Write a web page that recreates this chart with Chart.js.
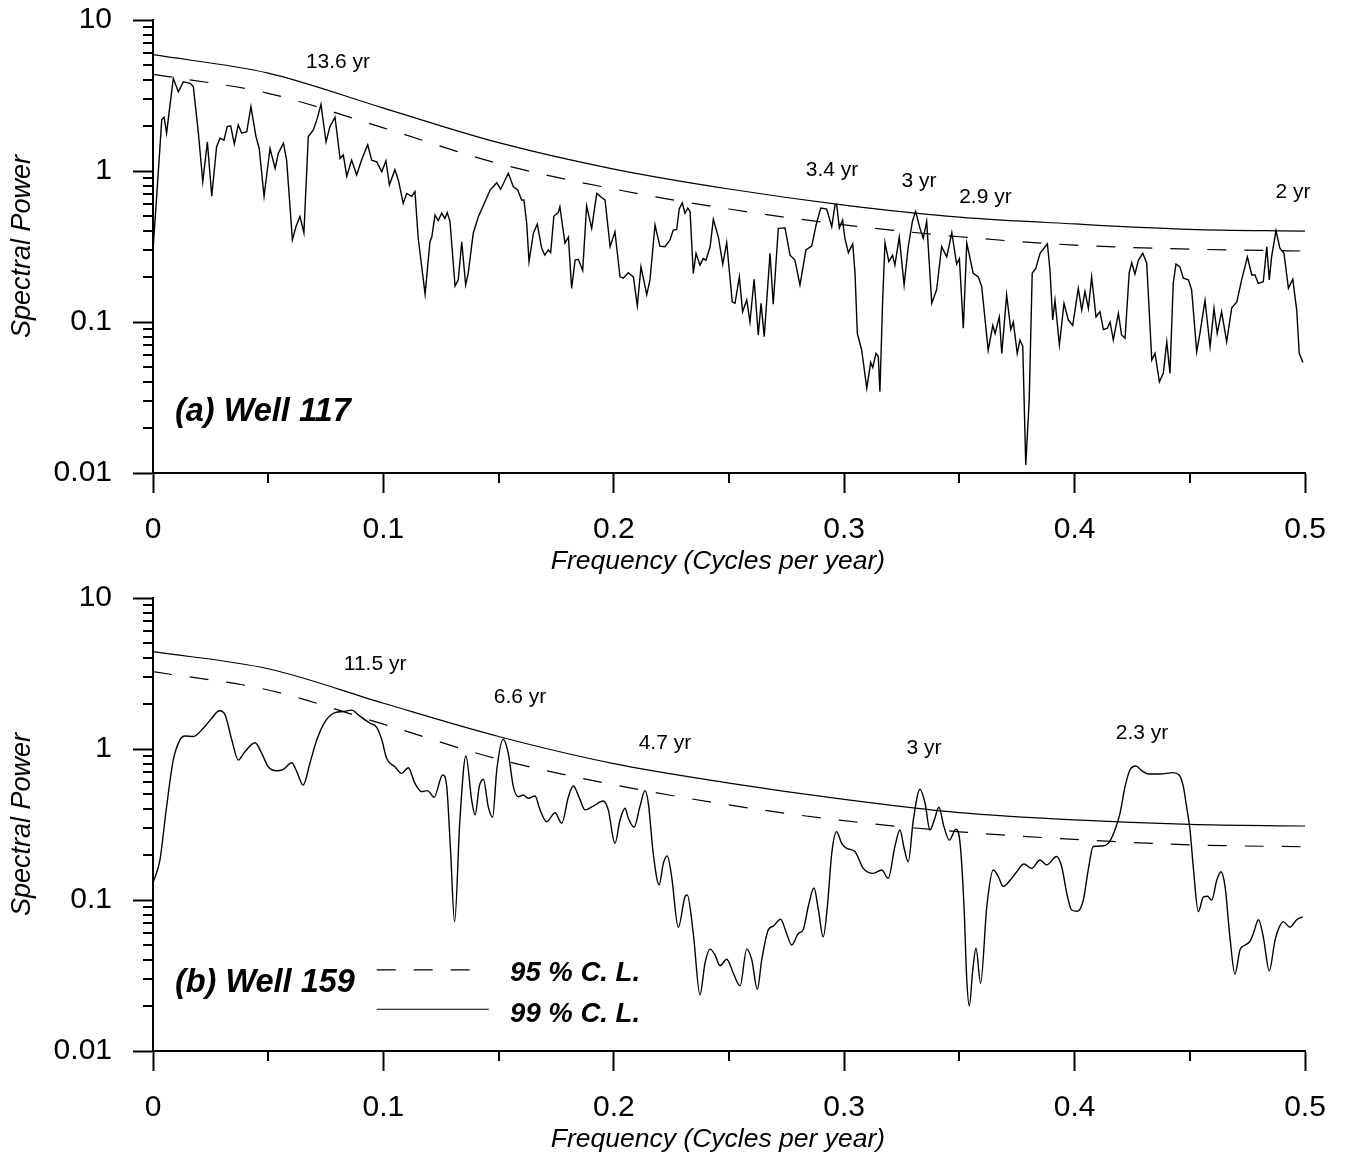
<!DOCTYPE html>
<html>
<head>
<meta charset="utf-8">
<title>Spectral power, wells 117 and 159</title>
<script src="https://cdn.jsdelivr.net/npm/chart.js@4.4.1/dist/chart.umd.min.js"></script>
<style>
  body { margin: 0; background: #fff; }
  #wrap { position: relative; width: 1346px; height: 1157px; }
  canvas { position: absolute; left: 0; }
</style>
</head>
<body>
<div id="wrap">
  <canvas id="chartA" width="1346" height="578" style="top:0px"></canvas>
  <canvas id="chartB" width="1346" height="579" style="top:578px"></canvas>
</div>
<script>
// ---- data: [frequency (cycles/yr), spectral power] ----
const well117 = [[0,0.30],[0.0016,0.68],[0.0038,2.18],[0.0048,2.27],[0.0059,1.78],[0.0088,4.11],[0.011,3.35],[0.0132,3.9],[0.0161,3.81],[0.0175,3.62],[0.0197,1.78],[0.0216,0.85],[0.0236,1.56],[0.0255,0.68],[0.0276,1.45],[0.0291,1.65],[0.0308,1.6],[0.0322,1.97],[0.0337,1.99],[0.0353,1.51],[0.037,2.02],[0.0385,1.78],[0.0407,1.82],[0.0425,2.67],[0.0447,1.69],[0.0461,1.41],[0.0482,0.68],[0.0508,1.41],[0.053,1.04],[0.0544,1.31],[0.0566,1.53],[0.058,1.18],[0.0605,0.35],[0.0621,0.43],[0.0638,0.50],[0.0655,0.39],[0.0674,1.69],[0.0696,1.87],[0.0713,2.23],[0.0729,2.76],[0.0751,1.56],[0.0768,1.97],[0.079,2.27],[0.0812,1.21],[0.0826,1.28],[0.0841,0.92],[0.0862,1.18],[0.0884,0.94],[0.0906,1.19],[0.0932,1.49],[0.0949,1.18],[0.0971,1.15],[0.0993,0.99],[0.1011,1.17],[0.1026,0.81],[0.105,1.02],[0.1065,0.87],[0.1086,0.61],[0.1101,0.71],[0.1123,0.68],[0.1137,0.73],[0.1151,0.36],[0.1181,0.153],[0.1202,0.34],[0.121,0.365],[0.1224,0.51],[0.1238,0.47],[0.1253,0.525],[0.1267,0.485],[0.1277,0.53],[0.1289,0.464],[0.1311,0.173],[0.1325,0.19],[0.134,0.34],[0.1357,0.176],[0.1368,0.21],[0.139,0.387],[0.1412,0.498],[0.1441,0.626],[0.1463,0.748],[0.1492,0.837],[0.1509,0.756],[0.1528,0.872],[0.1542,0.965],[0.1564,0.787],[0.1583,0.748],[0.16,0.643],[0.161,0.643],[0.1622,0.45],[0.1632,0.251],[0.1651,0.387],[0.1668,0.445],[0.1687,0.308],[0.1701,0.277],[0.1716,0.30],[0.1726,0.288],[0.174,0.503],[0.1759,0.53],[0.1766,0.58],[0.1788,0.333],[0.1803,0.365],[0.1817,0.167],[0.1832,0.257],[0.1846,0.26],[0.1865,0.219],[0.1882,0.587],[0.1904,0.417],[0.1926,0.711],[0.1947,0.667],[0.1962,0.643],[0.1984,0.315],[0.2005,0.396],[0.2027,0.199],[0.2041,0.195],[0.2063,0.212],[0.2085,0.199],[0.2102,0.128],[0.2118,0.232],[0.2143,0.152],[0.2157,0.19],[0.2179,0.439],[0.22,0.318],[0.2222,0.315],[0.2244,0.349],[0.2258,0.406],[0.2273,0.41],[0.2284,0.56],[0.2297,0.616],[0.2309,0.525],[0.2321,0.568],[0.2331,0.54],[0.2345,0.21],[0.2357,0.285],[0.2374,0.238],[0.2388,0.263],[0.24,0.257],[0.2418,0.315],[0.2432,0.478],[0.2454,0.365],[0.2473,0.242],[0.249,0.335],[0.2514,0.136],[0.2526,0.133],[0.2545,0.199],[0.2559,0.117],[0.2577,0.14],[0.2591,0.10],[0.2609,0.192],[0.2627,0.082],[0.2639,0.133],[0.2653,0.08],[0.2678,0.285],[0.2692,0.131],[0.2714,0.417],[0.2743,0.42],[0.2765,0.277],[0.2786,0.257],[0.2808,0.176],[0.2834,0.30],[0.2859,0.318],[0.2878,0.439],[0.2898,0.568],[0.2924,0.56],[0.2946,0.428],[0.296,0.595],[0.2967,0.604],[0.2979,0.42],[0.2993,0.474],[0.3003,0.358],[0.3018,0.288],[0.3037,0.329],[0.3047,0.21],[0.3057,0.084],[0.3076,0.065],[0.3098,0.0364],[0.3115,0.054],[0.3124,0.05],[0.3138,0.062],[0.3148,0.059],[0.3155,0.0346],[0.3167,0.14],[0.3177,0.335],[0.3194,0.251],[0.321,0.277],[0.322,0.238],[0.3239,0.364],[0.326,0.176],[0.3278,0.315],[0.3296,0.464],[0.331,0.54],[0.3329,0.417],[0.3343,0.358],[0.3358,0.464],[0.338,0.133],[0.3401,0.163],[0.3423,0.315],[0.3445,0.27],[0.3467,0.39],[0.3488,0.242],[0.35,0.263],[0.3517,0.091],[0.3532,0.333],[0.356,0.21],[0.3582,0.199],[0.3597,0.171],[0.3625,0.065],[0.3645,0.095],[0.3655,0.084],[0.3673,0.108],[0.3684,0.062],[0.3705,0.151],[0.3723,0.089],[0.3734,0.10],[0.3751,0.062],[0.3763,0.076],[0.3775,0.069],[0.3788,0.0113],[0.3803,0.0305],[0.3816,0.21],[0.3832,0.227],[0.385,0.285],[0.3867,0.308],[0.3882,0.329],[0.3893,0.221],[0.3905,0.103],[0.3915,0.139],[0.3934,0.0704],[0.3954,0.133],[0.3973,0.103],[0.3992,0.095],[0.4016,0.167],[0.4031,0.12],[0.4045,0.159],[0.406,0.123],[0.4074,0.199],[0.4093,0.108],[0.411,0.117],[0.4125,0.089],[0.4142,0.091],[0.4154,0.10],[0.4168,0.076],[0.419,0.114],[0.4204,0.082],[0.4219,0.078],[0.4237,0.212],[0.4248,0.247],[0.4262,0.208],[0.4277,0.257],[0.4296,0.285],[0.4313,0.245],[0.4335,0.056],[0.4349,0.062],[0.4368,0.0402],[0.4385,0.0457],[0.44,0.074],[0.4414,0.0457],[0.4428,0.18],[0.444,0.242],[0.4457,0.232],[0.4472,0.195],[0.4494,0.19],[0.4508,0.163],[0.453,0.0636],[0.4544,0.084],[0.4566,0.139],[0.4588,0.0686],[0.4605,0.123],[0.4619,0.084],[0.4638,0.117],[0.466,0.074],[0.4682,0.124],[0.4704,0.136],[0.4725,0.19],[0.475,0.27],[0.4769,0.205],[0.4783,0.205],[0.4797,0.18],[0.4819,0.185],[0.4834,0.315],[0.4845,0.19],[0.4855,0.27],[0.4874,0.402],[0.4891,0.308],[0.4909,0.285],[0.4928,0.167],[0.4947,0.192],[0.4964,0.12],[0.4975,0.062],[0.4991,0.054]];

const well159 = [[0,0.13],[0.003,0.184],[0.0059,0.415],[0.0088,0.846],[0.0117,1.15],[0.0139,1.22],[0.0175,1.21],[0.0218,1.37],[0.0255,1.6],[0.0288,1.79],[0.0313,1.68],[0.0342,1.15],[0.037,0.846],[0.0399,0.96],[0.0443,1.1],[0.0472,0.936],[0.05,0.763],[0.0537,0.718],[0.0566,0.734],[0.0602,0.81],[0.0624,0.708],[0.0652,0.577],[0.0681,0.804],[0.0711,1.15],[0.0747,1.52],[0.079,1.74],[0.0826,1.77],[0.0862,1.81],[0.0898,1.65],[0.0942,1.48],[0.0971,1.39],[0.0993,1.15],[0.1014,0.868],[0.105,0.763],[0.1079,0.69],[0.1108,0.752],[0.1137,0.592],[0.1166,0.522],[0.1191,0.53],[0.122,0.479],[0.1257,0.673],[0.1274,0.58],[0.1291,0.22],[0.1309,0.0716],[0.1332,0.339],[0.1358,0.899],[0.1383,0.46],[0.1398,0.366],[0.1416,0.563],[0.1434,0.63],[0.1455,0.415],[0.1474,0.353],[0.1492,0.726],[0.152,1.16],[0.1542,0.936],[0.1564,0.563],[0.1586,0.483],[0.1607,0.496],[0.1629,0.471],[0.1658,0.488],[0.168,0.395],[0.1709,0.33],[0.1745,0.378],[0.1774,0.322],[0.1803,0.483],[0.1824,0.569],[0.1853,0.464],[0.1875,0.395],[0.1911,0.419],[0.1954,0.452],[0.1976,0.395],[0.2005,0.237],[0.2027,0.339],[0.2049,0.405],[0.2063,0.348],[0.2088,0.303],[0.2114,0.419],[0.2135,0.53],[0.215,0.437],[0.2171,0.204],[0.2197,0.126],[0.2215,0.175],[0.2232,0.196],[0.2251,0.143],[0.228,0.066],[0.2309,0.105],[0.2319,0.108],[0.2345,0.06],[0.2374,0.0236],[0.2396,0.0383],[0.2418,0.0473],[0.2439,0.0433],[0.2461,0.0367],[0.249,0.0405],[0.2519,0.0327],[0.2548,0.027],[0.2577,0.0473],[0.2599,0.0401],[0.2623,0.0256],[0.2642,0.0401],[0.2671,0.0636],[0.2692,0.0671],[0.2724,0.0746],[0.275,0.06],[0.2772,0.0503],[0.2801,0.06],[0.2823,0.0641],[0.2844,0.0906],[0.2869,0.12],[0.2888,0.0859],[0.2909,0.057],[0.2927,0.0906],[0.2946,0.204],[0.2967,0.283],[0.2989,0.237],[0.3011,0.22],[0.3047,0.209],[0.3083,0.162],[0.3126,0.15],[0.3163,0.158],[0.3191,0.139],[0.322,0.226],[0.3242,0.291],[0.326,0.22],[0.3278,0.179],[0.33,0.339],[0.3329,0.541],[0.3351,0.437],[0.3372,0.291],[0.3391,0.339],[0.3411,0.411],[0.3433,0.306],[0.3456,0.249],[0.3485,0.294],[0.3503,0.237],[0.352,0.0906],[0.3532,0.0296],[0.3543,0.0199],[0.3558,0.0343],[0.3572,0.0479],[0.3592,0.0281],[0.3619,0.0906],[0.3647,0.158],[0.3669,0.143],[0.369,0.123],[0.372,0.135],[0.3749,0.154],[0.378,0.173],[0.3814,0.162],[0.385,0.184],[0.3879,0.171],[0.3922,0.194],[0.3944,0.166],[0.3966,0.111],[0.3987,0.0859],[0.4012,0.0842],[0.4038,0.1],[0.4059,0.158],[0.4081,0.226],[0.4118,0.228],[0.4146,0.237],[0.4175,0.291],[0.4197,0.375],[0.4219,0.563],[0.424,0.726],[0.4266,0.772],[0.4291,0.718],[0.432,0.683],[0.4371,0.683],[0.4428,0.697],[0.4454,0.673],[0.4472,0.563],[0.4486,0.415],[0.4501,0.291],[0.4515,0.166],[0.4537,0.0837],[0.4559,0.105],[0.4576,0.106],[0.4595,0.1],[0.4617,0.135],[0.4635,0.154],[0.4653,0.123],[0.4674,0.057],[0.4696,0.0323],[0.4718,0.0469],[0.474,0.0503],[0.4761,0.0532],[0.4776,0.06],[0.4798,0.074],[0.4819,0.057],[0.4845,0.034],[0.487,0.0543],[0.4888,0.066],[0.4906,0.0716],[0.4935,0.066],[0.4964,0.074],[0.499,0.0774]];

// confidence levels, read every 0.05 cycles/yr
const clFreq = [0, 0.05, 0.1, 0.15, 0.2, 0.25, 0.3, 0.35, 0.4, 0.45, 0.5];
const cl99A = [5.89, 4.45, 2.61, 1.54, 1.03, 0.76, 0.595, 0.495, 0.446, 0.411, 0.40];
const cl95A = [4.37, 3.27, 1.93, 1.12, 0.76, 0.56, 0.44, 0.367, 0.323, 0.304, 0.295];
const cl99B = [4.41, 3.40, 2.01, 1.21, 0.80, 0.595, 0.464, 0.379, 0.339, 0.317, 0.309];
const cl95B = [3.25, 2.46, 1.46, 0.855, 0.58, 0.426, 0.335, 0.283, 0.252, 0.232, 0.225];

// peak labels: [text, frequency, power]
const peaksA = [['13.6 yr', 0.0803, 5.27], ['3.4 yr', 0.2947, 1.015], ['3 yr', 0.3325, 0.858], ['2.9 yr', 0.3613, 0.673], ['2 yr', 0.4948, 0.726]];
const peaksB = [['11.5 yr', 0.0964, 3.66], ['6.6 yr', 0.1593, 2.21], ['4.7 yr', 0.2222, 1.096], ['3 yr', 0.3346, 1.015], ['2.3 yr', 0.4293, 1.276]];

// ticks
const xTickValues = [0, 0.1, 0.2, 0.3, 0.4, 0.5];
const xTickLabels = ['0', '0.1', '0.2', '0.3', '0.4', '0.5'];
const xMinorTicks = [0.05, 0.15, 0.25, 0.35, 0.45];
const yTickValues = [0.01, 0.1, 1, 10];
const yTickLabels = ['0.01', '0.1', '1', '10'];
const yMinorTicks = [0.02, 0.03, 0.04, 0.05, 0.06, 0.07, 0.08, 0.09, 0.2, 0.3, 0.4, 0.5, 0.6, 0.7, 0.8, 0.9, 2, 3, 4, 5, 6, 7, 8, 9];

const FONT = '"Liberation Sans", Arial, Helvetica, sans-serif';

// minor ticks, peak labels, panel name and legend
const decorations = {
  id: 'decorations',
  afterDraw(chart, args, opts) {
    const ctx = chart.ctx;
    const xs = chart.scales.x;
    const ys = chart.scales.y;
    ctx.save();
    ctx.strokeStyle = '#000';
    ctx.lineWidth = 2;
    ctx.beginPath();
    yMinorTicks.forEach(v => {
      const y = Math.round(ys.getPixelForValue(v));
      ctx.moveTo(ys.right - 10, y);
      ctx.lineTo(ys.right, y);
    });
    xMinorTicks.forEach(v => {
      const x = Math.round(xs.getPixelForValue(v));
      ctx.moveTo(x, xs.top);
      ctx.lineTo(x, xs.top + 10);
    });
    ctx.stroke();

    ctx.fillStyle = '#000';
    ctx.textBaseline = 'middle';
    ctx.textAlign = 'center';
    ctx.font = '21px ' + FONT;
    opts.peaks.forEach(p => {
      ctx.fillText(p[0], xs.getPixelForValue(p[1]), ys.getPixelForValue(p[2]));
    });

    ctx.textAlign = 'left';
    ctx.font = 'italic bold 32.5px ' + FONT;
    ctx.fillText(opts.name[0], xs.getPixelForValue(opts.name[1]), ys.getPixelForValue(opts.name[2]));

    if (opts.legend) {
      const lg = opts.legend;
      ctx.lineWidth = 1.2;
      ctx.setLineDash([19, 18]);
      ctx.beginPath();
      ctx.moveTo(xs.getPixelForValue(lg.x0), ys.getPixelForValue(lg.dashY));
      ctx.lineTo(xs.getPixelForValue(lg.x1Dash), ys.getPixelForValue(lg.dashY));
      ctx.stroke();
      ctx.setLineDash([]);
      ctx.beginPath();
      ctx.moveTo(xs.getPixelForValue(lg.x0), ys.getPixelForValue(lg.solidY));
      ctx.lineTo(xs.getPixelForValue(lg.x1Solid), ys.getPixelForValue(lg.solidY));
      ctx.stroke();
      ctx.font = 'italic bold 27.5px ' + FONT;
      ctx.fillText(lg.texts[0], xs.getPixelForValue(lg.textX), ys.getPixelForValue(lg.textY[0]));
      ctx.fillText(lg.texts[1], xs.getPixelForValue(lg.textX), ys.getPixelForValue(lg.textY[1]));
    }
    ctx.restore();
  }
};

function makeChart(canvasId, spectrum, cl95, cl99, peaks, name, legend, xAxisHeight, titlePad) {
  return new Chart(document.getElementById(canvasId), {
    type: 'line',
    data: {
      datasets: [
        {
          data: spectrum.map(p => ({ x: p[0], y: p[1] })),
          borderColor: '#000',
          borderWidth: 1.4,
          pointRadius: 0,
          tension: 0,
          cubicInterpolationMode: spectrum === well159 ? 'monotone' : 'default'
        },
        {
          data: clFreq.map((f, i) => ({ x: f, y: cl95[i] })),
          borderColor: '#000',
          borderWidth: 1.2,
          borderDash: [19, 18],
          pointRadius: 0,
          cubicInterpolationMode: 'monotone'
        },
        {
          data: clFreq.map((f, i) => ({ x: f, y: cl99[i] })),
          borderColor: '#000',
          borderWidth: 1.2,
          pointRadius: 0,
          cubicInterpolationMode: 'monotone'
        }
      ]
    },
    options: {
      responsive: false,
      animation: false,
      devicePixelRatio: 1,
      layout: { padding: { left: 0, right: 41, top: 20, bottom: 0 } },
      plugins: {
        legend: { display: false },
        tooltip: { enabled: false },
        decorations: { peaks: peaks, name: name, legend: legend }
      },
      scales: {
        x: {
          type: 'linear',
          min: 0,
          max: 0.5,
          afterBuildTicks: s => { s.ticks = xTickValues.map(v => ({ value: v })); },
          afterFit: s => { s.height = xAxisHeight; s.paddingLeft = 0; s.paddingRight = 0; },
          ticks: {
            color: '#000',
            font: { family: FONT, size: 30 },
            padding: 19,
            maxRotation: 0,
            callback: (v, i) => xTickLabels[i]
          },
          grid: { display: true, drawOnChartArea: false, drawTicks: true, tickLength: 20, tickWidth: 2, tickColor: '#000' },
          border: { display: true, color: '#000', width: 2 },
          title: {
            display: true,
            // trailing spaces nudge the centred title a little left, as in the original
            text: 'Frequency (Cycles per year)   ',
            color: '#000',
            font: { family: FONT, size: 26.5, style: 'italic' },
            padding: { top: 0, bottom: titlePad }
          }
        },
        y: {
          type: 'logarithmic',
          min: 0.01,
          max: 10,
          afterBuildTicks: s => { s.ticks = yTickValues.map(v => ({ value: v })); },
          afterFit: s => { s.width = 153; s.paddingTop = 0; s.paddingBottom = 0; },
          ticks: {
            color: '#000',
            font: { family: FONT, size: 30 },
            padding: 21,
            callback: (v, i) => yTickLabels[i]
          },
          grid: { display: true, drawOnChartArea: false, drawTicks: true, tickLength: 20, tickWidth: 2, tickColor: '#000' },
          border: { display: true, color: '#000', width: 2 },
          title: {
            display: true,
            text: 'Spectral Power',
            color: '#000',
            font: { family: FONT, size: 27, style: 'italic' },
            padding: { top: 6, bottom: 0 }
          }
        }
      }
    },
    plugins: [decorations]
  });
}

makeChart('chartA', well117, cl95A, cl99A, peaksA, ['(a) Well 117', 0.0095, 0.0253], null, 105, 0);
makeChart('chartB', well159, cl95B, cl99B, peaksB, ['(b) Well 159', 0.0095, 0.0281], {
  x0: 0.0971, x1Dash: 0.1388, x1Solid: 0.1458, dashY: 0.0345, solidY: 0.0189,
  textX: 0.155, textY: [0.0324, 0.0176], texts: ['95 % C. L.', '99 % C. L.']
}, 106, 1);
</script>
</body>
</html>
